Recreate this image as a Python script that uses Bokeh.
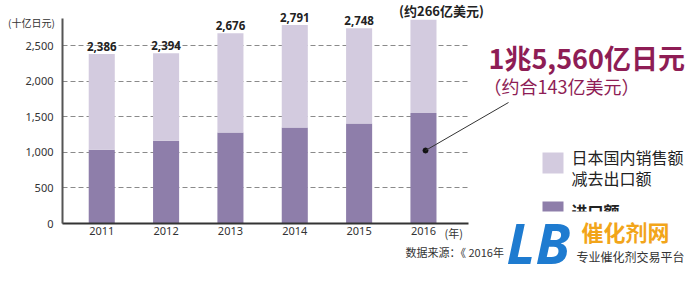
from bokeh.plotting import figure
from bokeh.models import (ColumnDataSource, FixedTicker, NumeralTickFormatter, Label,
                          BoxAnnotation, Arrow, Range1d)
from bokeh.core.properties import value
from bokeh.embed import file_html
from bokeh.resources import INLINE

# ---- data ----
years = [2011, 2012, 2013, 2014, 2015, 2016]
totals = [2386, 2394, 2676, 2791, 2748, 2865]      # 日本国内销售额减去出口额 + 进口额 (top of bar)
imports = [1037, 1163, 1280, 1350, 1406, 1556]     # 进口额
total_labels = ["2,386", "2,394", "2,676", "2,791", "2,748", ""]
y_ticks = [0, 500, 1000, 1500, 2000, 2500]

LIGHT = "#D3CBDF"
DARK = "#8E7EAA"
MAGENTA = "#8E1D55"
CJK = "Noto Sans CJK SC"

W, H = 700, 281
FL, FR, FT, FB = 62, 468, 18, 223          # plot-area edges in pixels
X0, X1 = 2010.39, 2016.70
Y1 = 2884
XS = (FR - FL) / (X1 - X0)
YS = (FB - FT) / Y1

def dx(px):
    return X0 + (px - FL) / XS
def dy(py):
    return (FB - py) / YS

src = ColumnDataSource(dict(x=years, total=totals, imp=imports, lab=total_labels))

p = figure(width=W, height=H, output_backend="svg", toolbar_location=None,
           x_range=Range1d(dx(0), dx(W)), y_range=Range1d(dy(H), dy(0)),
           min_border=0, outline_line_color=None,
           background_fill_color="white", border_fill_color="white")

# grid & axes
p.xgrid.grid_line_color = None
p.ygrid.grid_line_color = "#8a8a8a"
p.ygrid.grid_line_dash = "5 3"
p.ygrid.grid_line_width = 1
p.ygrid.ticker = FixedTicker(ticks=y_ticks)
p.ygrid.cross_bounds = (X0, X1)

for ax in (p.xaxis, p.yaxis):
    ax.major_tick_line_color = None
    ax.minor_tick_line_color = None
    ax.major_tick_out = 0
    ax.major_tick_in = 0
    ax.minor_tick_out = 0
    ax.minor_tick_in = 0
    ax.axis_line_width = 2
    ax.major_label_text_font = "Noto Sans"
    ax.major_label_text_font_size = "11px"
    ax.major_label_text_color = "#333333"

p.yaxis.fixed_location = X0
p.yaxis.bounds = (0, Y1)
p.yaxis.ticker = FixedTicker(ticks=y_ticks)
p.yaxis.formatter = NumeralTickFormatter(format="0,0")
p.yaxis.axis_line_color = "#555555"
p.yaxis.major_label_standoff = 9

p.xaxis.fixed_location = 0
p.xaxis.bounds = (X0, X1)
p.xaxis.ticker = FixedTicker(ticks=years)
p.xaxis.axis_line_color = "#333333"
p.xaxis.major_label_standoff = 3

# bars
p.vbar(x="x", bottom=0, top="imp", width=0.405, source=src, fill_color=DARK, line_color=None)
p.vbar(x="x", bottom="imp", top="total", width=0.405, source=src, fill_color=LIGHT, line_color=None)
p.text(x="x", y="total", text="lab", source=src, text_align="center", text_baseline="bottom",
       y_offset=-3, text_font=value("Noto Sans"), text_font_style="bold",
       text_font_size="11.5px", text_color="#222222")

# annotation pointer
px_dot, py_dot = 425, 150
p.add_layout(Arrow(end=None, x_start=dx(px_dot), y_start=dy(py_dot), x_end=dx(508), y_end=dy(102),
                   line_color="#333333", line_width=1))
p.scatter([dx(px_dot)], [dy(py_dot)], size=5, color="#111111")

def lab(px, py, text, size, color="#333333", font=CJK, style="normal", align="left", baseline="middle"):
    p.add_layout(Label(x=dx(px), y=dy(py), text=text, text_font=font, text_font_size=size,
                       text_color=color, text_font_style=style, text_align=align,
                       text_baseline=baseline))

lab(31, 22, "(十亿日元)", "10px", align="center")
lab(441, 10, "(约266亿美元)", "13px", color="#222222", style="bold", align="center")
lab(488, 57, "1兆5,560亿日元", "27px", color=MAGENTA, style="bold")
lab(483, 85, "（约合143亿美元）", "18px", color=MAGENTA)
lab(444, 232, "(年)", "11px")
lab(405, 251, "数据来源：《 2016年", "11px")

# legend
p.add_layout(BoxAnnotation(left=dx(542), right=dx(563), top=dy(152), bottom=dy(173),
                           fill_color=LIGHT, fill_alpha=1, line_color=None))
lab(571, 156, "日本国内销售额", "16px", color="#222222")
lab(571, 177, "减去出口额", "16px", color="#222222")
p.add_layout(BoxAnnotation(left=dx(542), right=dx(563), top=dy(201), bottom=dy(222),
                           fill_color=DARK, fill_alpha=1, line_color=None))
lab(571, 210, "进口额", "16px", color="#222222", style="bold")

# watermark logo (white panel covering lower-right)
p.add_layout(BoxAnnotation(left=dx(508), right=dx(700), top=dy(211), bottom=dy(281),
                           fill_color="white", fill_alpha=1, line_color=None))
lab(506, 241, "LB", "56px", color="#1E7BD0", font="Noto Sans", style="bold italic")
lab(581, 230, "催化剂网", "22px", color="#F2A51A", style="bold")
lab(576, 256, "专业催化剂交易平台", "12px", color="#333333")

open("out.html", "w").write(file_html(p, INLINE))
